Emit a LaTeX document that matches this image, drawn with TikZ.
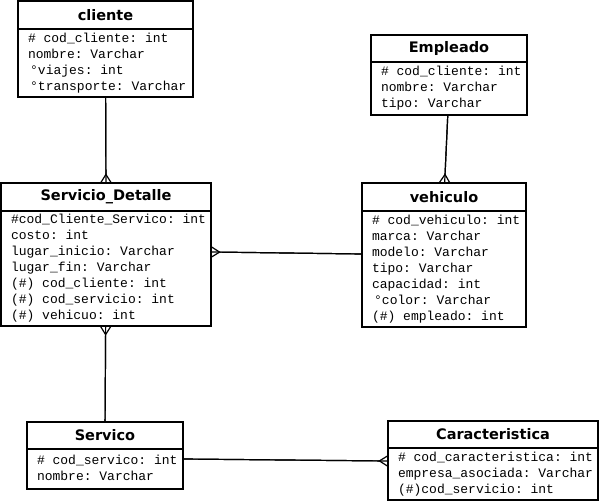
\documentclass[tikz,border=0pt]{standalone}
\usepackage{fontspec}
\usepackage{tikz}
\usetikzlibrary{positioning,arrows.meta}
\setmainfont{DejaVu Sans}
\setmonofont{Liberation Mono}

\tikzset{
  titulo/.style={draw, line width=1.5pt, inner sep=0pt, outer sep=0pt,
    font=\bfseries\fontsize{14.5}{17}\selectfont},
  campos/.style={draw, line width=1.5pt, inner xsep=10pt, inner ysep=0pt, outer sep=0pt,
    align=left, font=\ttfamily\fontsize{13}{16}\selectfont,
    execute at begin node={\spaceskip=7.8pt\relax\strut}, execute at end node=\strut},
  pata/.style={line width=1.2pt, -{Straight Barb[reversed,length=8pt,width=10pt]},
    postaction={draw,-}}
}

\begin{document}
\begin{tikzpicture}[x=1pt,y=-1pt]
\useasboundingbox (0,0) rectangle (599,502);
%% cliente;
\node[titulo, minimum width=175pt, minimum height=28pt] (cliente) at (105.5,15) {cliente};
\node[campos, below=0pt of cliente, text width=155pt, minimum height=68pt] (clienteB)
  {\#~cod\_cliente:~int\\nombre:~Varchar\\\,°viajes:~int\\\,°transporte:~Varchar};
%% Empleado;
\node[titulo, minimum width=156pt, minimum height=27pt] (empleado) at (449,48.5) {Empleado};
\node[campos, below=0pt of empleado, text width=136pt, minimum height=53pt] (empleadoB)
  {\#~cod\_cliente:~int\\nombre:~Varchar\\tipo:~Varchar};
%% Servicio_Detalle;
\node[titulo, minimum width=210pt, minimum height=28pt] (detalle) at (106,197) {Servicio\_Detalle};
\node[campos, below=0pt of detalle, text width=190pt, minimum height=115pt] (detalleB)
  {\#cod\_Cliente\_Servico:~int\\costo:~int\\lugar\_inicio:~Varchar\\lugar\_fin:~Varchar\\(\#)~cod\_cliente:~int\\(\#)~cod\_servicio:~int\\(\#)~vehicuo:~int};
%% vehiculo;
\node[titulo, minimum width=164pt, minimum height=28pt] (vehiculo) at (444,197) {vehiculo};
\node[campos, below=0pt of vehiculo, text width=144pt, minimum height=116pt] (vehiculoB)
  {\#~cod\_vehiculo:~int\\marca:~Varchar\\modelo:~Varchar\\tipo:~Varchar\\capacidad:~int\\\,°color:~Varchar\\(\#)~empleado:~int};
%% Servico;
\node[titulo, minimum width=156pt, minimum height=27pt] (servico) at (105,435.5) {Servico};
\node[campos, below=0pt of servico, text width=136pt, minimum height=40pt] (servicoB)
  {\#~cod\_servico:~int\\nombre:~Varchar};
%% Caracteristica;
\node[titulo, minimum width=210pt, minimum height=27pt] (caract) at (493,434.5) {Caracteristica};
\node[campos, below=0pt of caract, text width=190pt, minimum height=52pt] (caractB)
  {\#~cod\_caracteristica:~int\\empresa\_asociada:~Varchar\\(\#)cod\_servicio:~int};
%% relaciones;
\draw[pata] (clienteB) -- (detalle);
\draw[pata] (empleadoB) -- (vehiculo);
\draw[pata] ([yshift=15pt]vehiculoB.west) -- ([yshift=16.5pt]detalleB.east);
\draw[pata] (servico) -- (detalleB);
\draw[pata] ([yshift=10pt]servicoB.east) -- ([yshift=13pt]caractB.west);
\end{tikzpicture}
\end{document}
